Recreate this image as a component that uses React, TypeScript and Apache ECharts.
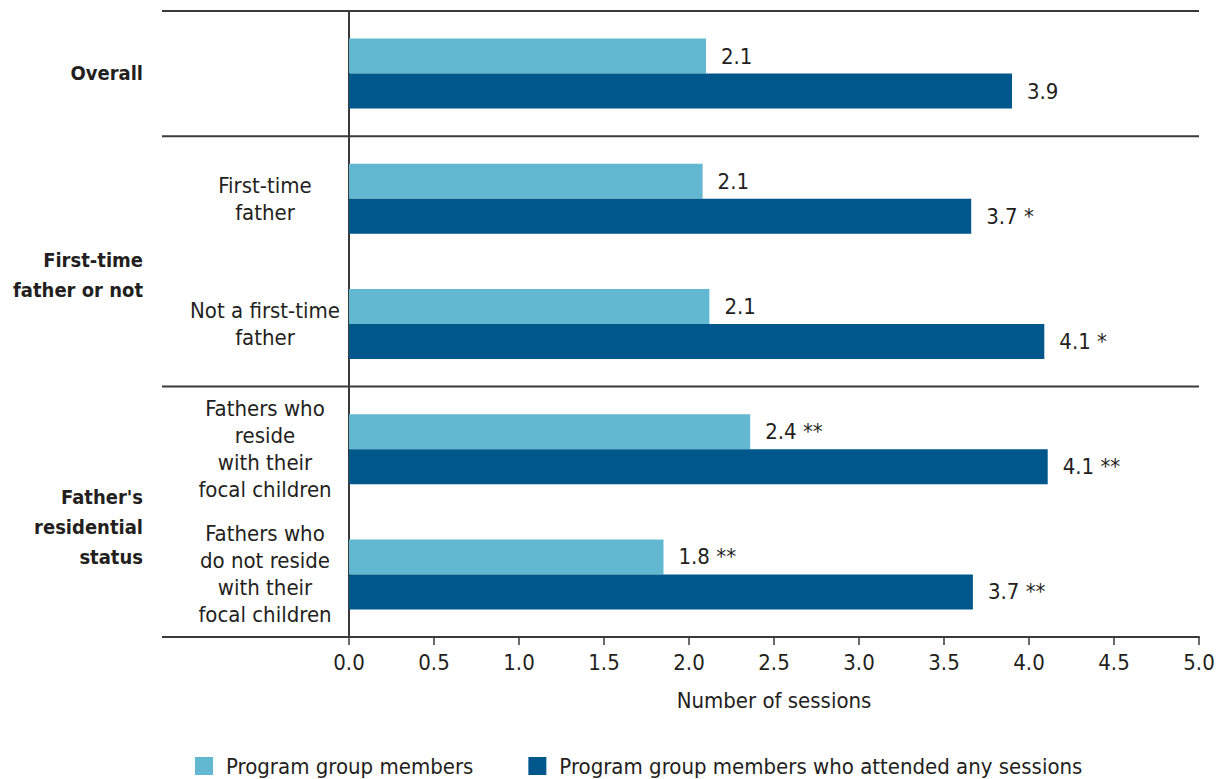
import React, { useEffect, useRef } from "react";
import * as echarts from "echarts";

const categories = [
  "Overall",
  "First-time father",
  "Not a first-time father",
  "Fathers who reside with their focal children",
  "Fathers who do not reside with their focal children",
];
const categoryLabels = ["", "First-time\nfather", "Not a first-time\nfather", "Fathers who\nreside\nwith their\nfocal children", "Fathers who\ndo not reside\nwith their\nfocal children"];
const groupLabels = ["Overall", "First-time\nfather or not", "Father's\nresidential\nstatus"];
const seriesNames = ["Program group members", "Program group members who attended any sessions"];
const programValues = [2.1, 2.08, 2.12, 2.36, 1.85];
const attendedValues = [3.9, 3.66, 4.09, 4.11, 3.67];
const programLabels = ["2.1", "2.1", "2.1", "2.4 **", "1.8 **"];
const attendedLabels = ["3.9", "3.7 *", "4.1 *", "4.1 **", "3.7 **"];
const axisMin = 0;
const axisMax = 5;
const axisInterval = 0.5;
const axisTitle = "Number of sessions";

const FONT = "'DejaVu Sans Condensed', 'Liberation Sans Narrow', sans-serif";
const TEXT = "#231f20";
const LIGHT = "#62b8d1";
const DARK = "#00578b";
const LINE = "#3a3a3a";
const FS = 22;

export default function App() {
  const ref = useRef<HTMLDivElement>(null);
  useEffect(() => {
    if (!ref.current) return;
    const chart = echarts.init(ref.current, null, { renderer: "svg" });
    const gridLeft = 349;
    const gridRight = 23;
    const gridTop = 11;
    const gridBottom = 142;
    const plotH = 779 - gridTop - gridBottom;
    const rowH = plotH / categories.length;
    const lineYs = [gridTop, gridTop + rowH, gridTop + 3 * rowH, gridTop + 5 * rowH];
    const graphics: any[] = lineYs.map((y) => ({
      type: "line",
      shape: { x1: 162, y1: y, x2: 1222 - gridRight, y2: y },
      style: { stroke: LINE, lineWidth: 2 },
      z: 10,
    }));
    const groupYs = [73, 275, 527];
    groupLabels.forEach((g, i) => {
      graphics.push({
        type: "text",
        x: 143,
        y: groupYs[i],
        style: {
          text: g,
          fontFamily: FONT,
          fontSize: 20,
          fontWeight: "bold",
          fill: TEXT,
          align: "right",
          verticalAlign: "middle",
          lineHeight: 30,
        },
      });
    });
    chart.setOption({
      animation: false,
      textStyle: { fontFamily: FONT, color: TEXT },
      grid: { left: gridLeft, right: gridRight, top: gridTop, bottom: gridBottom, containLabel: false },
      legend: {
        left: 195,
        top: 755,
        padding: 0,
        itemWidth: 18,
        itemHeight: 18,
        itemGap: 55,
        icon: "rect",
        textStyle: { fontFamily: FONT, fontSize: FS, color: TEXT, padding: [0, 0, 0, 8] },
        data: seriesNames,
      },
      xAxis: {
        type: "value",
        min: axisMin,
        max: axisMax,
        interval: axisInterval,
        name: axisTitle,
        nameLocation: "middle",
        nameGap: 52,
        nameTextStyle: { fontFamily: FONT, fontSize: FS, color: TEXT },
        axisLine: { show: true, lineStyle: { color: LINE, width: 2 } },
        axisTick: { show: true, length: 8, lineStyle: { color: LINE, width: 1.5 } },
        axisLabel: {
          fontFamily: FONT,
          fontSize: FS,
          color: TEXT,
          margin: 14,
          formatter: (v: number) => v.toFixed(1),
        },
        splitLine: { show: false },
      },
      yAxis: {
        type: "category",
        inverse: true,
        data: categories,
        axisLine: { show: true, lineStyle: { color: LINE, width: 2 } },
        axisTick: { show: false },
        axisLabel: {
          fontFamily: FONT,
          fontSize: FS,
          color: TEXT,
          align: "center",
          margin: 84,
          lineHeight: 27,
          formatter: (_v: string, i: number) => categoryLabels[i],
        },
      },
      series: [
        {
          name: seriesNames[0],
          type: "bar",
          data: programValues,
          barWidth: 35,
          barGap: "0%",
          itemStyle: { color: LIGHT },
          label: {
            show: true,
            position: "right",
            distance: 15,
            fontFamily: FONT,
            fontSize: FS,
            color: TEXT,
            formatter: (p: any) => programLabels[p.dataIndex],
          },
        },
        {
          name: seriesNames[1],
          type: "bar",
          data: attendedValues,
          barWidth: 35,
          barGap: "0%",
          itemStyle: { color: DARK },
          label: {
            show: true,
            position: "right",
            distance: 15,
            fontFamily: FONT,
            fontSize: FS,
            color: TEXT,
            formatter: (p: any) => attendedLabels[p.dataIndex],
          },
        },
      ],
      graphic: graphics,
    });
    return () => chart.dispose();
  }, []);
  return (
    <div
      ref={ref}
      style={{ position: "absolute", left: 0, top: 0, width: 1222, height: 779, background: "#fff" }}
    />
  );
}
